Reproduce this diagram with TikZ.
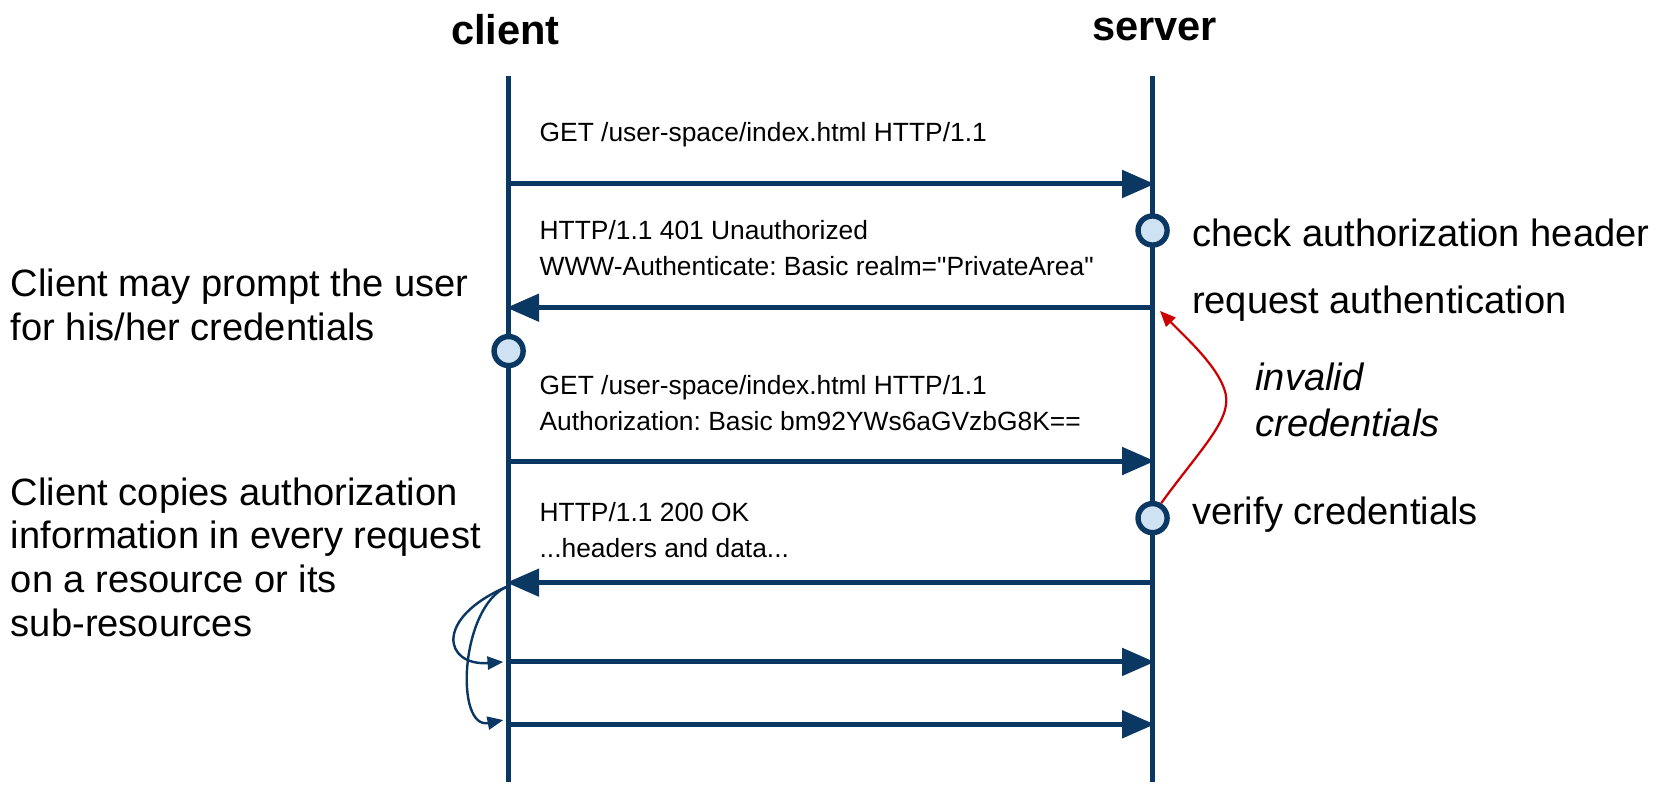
\documentclass[tikz,border=0pt]{standalone}
\usepackage{fontspec}
\setmainfont{Liberation Sans}
\usepackage{tikz}
\usetikzlibrary{arrows.meta}
\frenchspacing

\definecolor{dblue}{RGB}{11,56,99}
\definecolor{lblue}{RGB}{207,226,243}
\definecolor{dred}{RGB}{204,0,0}

\begin{document}
\begin{tikzpicture}[x=0.02cm,y=-0.02cm,
	lifeline/.style={dblue, line width=2.7pt},
	msg/.style={dblue, line width=2.7pt, -{Triangle[length=17.5pt,width=14.5pt]}},
	copyarrow/.style={dblue, line width=1.3pt, -{Triangle[length=8.5pt,width=7pt]}},
	event/.style={circle, draw=dblue, fill=lblue, line width=2.9pt, minimum size=0.55cm, inner sep=0pt},
	msgtext/.style={anchor=west, align=left, inner sep=0pt, font=\fontsize{14.2}{19.3}\selectfont},
	note/.style={anchor=west, align=left, inner sep=0pt, font=\fontsize{20.5}{23.6}\selectfont},
	title/.style={inner sep=0pt, font=\fontsize{22.4}{26}\selectfont\bfseries}]
	\useasboundingbox (0,0) rectangle (1568,749);

	%lines
	\coordinate (ctop) at (481,72);
	\coordinate (cbot) at (481,740);
	\coordinate (stop) at (1090,72);
	\coordinate (sbot) at (1090,740);
	\draw[lifeline] (ctop)--(cbot);
	\draw[lifeline] (stop)--(sbot);

	%message ends
	\coordinate (c1) at (481,174);	\coordinate (s1) at (1092,174);
	\coordinate (s2) at (1090,291);	\coordinate (c2) at (479,291);
	\coordinate (c3) at (481,436);	\coordinate (s3) at (1092,436);
	\coordinate (s4) at (1090,551);	\coordinate (c4) at (479,551);
	\coordinate (c5) at (481,626);	\coordinate (s5) at (1092,626);
	\coordinate (c6) at (481,685);	\coordinate (s6) at (1092,685);
	\draw[msg] (c1)--(s1);
	\draw[msg] (s2)--(c2);
	\draw[msg] (c3)--(s3);
	\draw[msg] (s4)--(c4);
	\draw[msg] (c5)--(s5);
	\draw[msg] (c6)--(s6);

	%events
	\node[event] (check)  at (1090,218) {};
	\node[event] (prompt) at (481,332)  {};
	\node[event] (verify) at (1090,490) {};

	%copied credentials
	\coordinate (cp)  at (479,555);
	\coordinate (cp1) at (476,626);
	\coordinate (cp2) at (476,681);
	\draw[copyarrow] (cp) .. controls (410,585) and (420,630) .. (cp1);
	\draw[copyarrow] (cp) .. controls (435,575) and (430,690) .. (cp2);

	%invalid credentials
	\coordinate (bend) at (1159,372);
	\coordinate (retry) at (1097,294);
	\draw[dred, line width=1.2pt, -{Triangle[length=8.5pt,width=7pt]}]
		(verify.60) .. controls (1135,425) and (1165,397) .. (bend)
		.. controls (1153,347) and (1120,318) .. (retry);

	%labels
	\node[title] (client) at (478,28)  {client};
	\node[title] (server) at (1092,28) {server};
	%
	\node[msgtext] (get1) at (510,127) {GET /user-space/index.html HTTP/1.1};
	\node[msgtext] (unauth) at (510,235) {HTTP/1.1 401 Unauthorized\\WWW-Authenticate: Basic realm=\textquotedbl PrivateArea\textquotedbl};
	\node[msgtext] (get2) at (510,381) {GET /user-space/index.html HTTP/1.1\\Authorization: Basic bm92YWs6aGVzbG8K==};
	\node[msgtext] (ok) at (510,501) {HTTP/1.1 200 OK\\...headers and data...};
	%
	\node[note] (checklbl)   at (1127,220) {check authorization header};
	\node[note] (requestlbl) at (1127,287) {request authentication};
	\node[note, font=\fontsize{20.5}{24.5}\selectfont\itshape] (invalidlbl) at (1187,378) {invalid\\credentials};
	\node[note] (verifylbl)  at (1127,487) {verify credentials};
	\node[note] (promptlbl)  at (10,288) {Client may prompt the user\\for his/her credentials};
	\node[note] (copylbl)    at (10,527) {Client copies authorization\\information in every request\\on a resource or its\\sub-resources};
	%\draw[help lines] (0,0) grid (1568,749);
\end{tikzpicture}
\end{document}
